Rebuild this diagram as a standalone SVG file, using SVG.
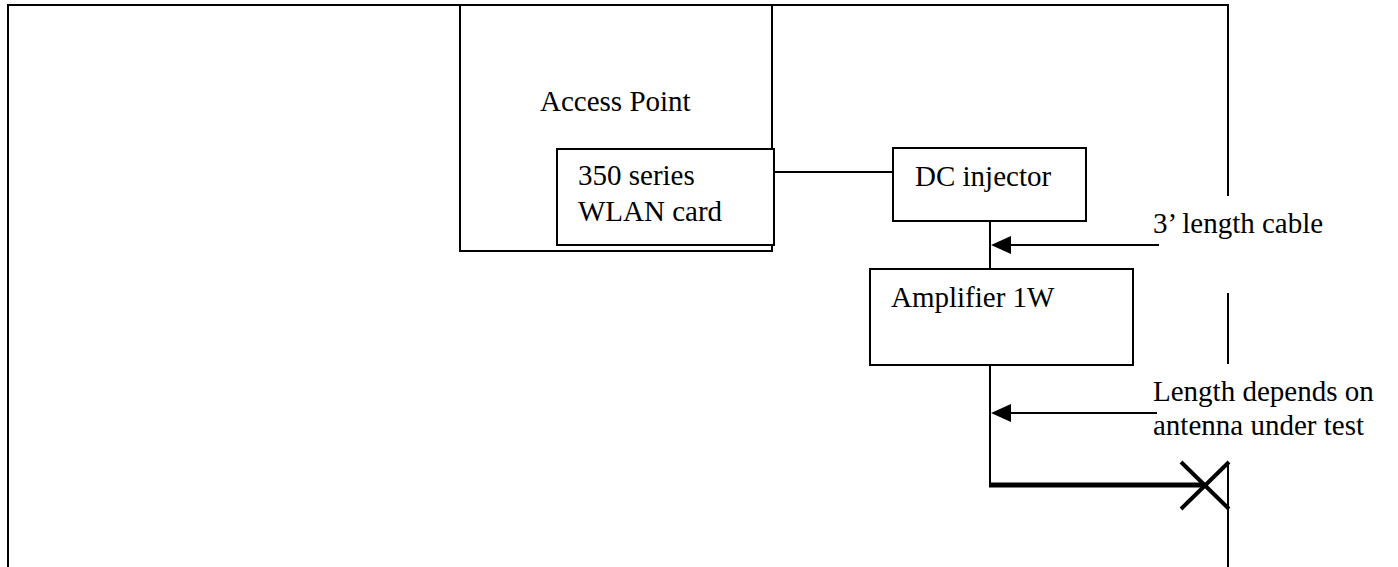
<svg xmlns="http://www.w3.org/2000/svg" width="1398" height="567" viewBox="0 0 1398 567">
<style>
.box{fill:none;stroke:#000;stroke-width:2}
.ln{fill:none;stroke:#000;stroke-width:2}
.head{fill:#000;stroke:none}
.t{font-family:"Liberation Serif","Times New Roman",serif;font-size:29px;fill:#000}
</style>
<rect width="1398" height="567" fill="#fff"/>
<g id="frame">
<path class="ln" d="M8,567 V5 H1228 V196"/>
<path class="ln" d="M1228,293 V364"/>
<path class="ln" d="M1228,462 V567"/>
</g>
<g id="access-point">
<rect class="box" x="460" y="5" width="312" height="246"/>
<text class="t" x="540" y="111">Access Point</text>
</g>
<g id="wlan-card">
<rect class="box" x="557" y="149" width="217" height="96" style="fill:#fff"/>
<text class="t" x="578" y="185">350 series</text>
<text class="t" x="578" y="221">WLAN card</text>
</g>
<g id="dc-injector">
<rect class="box" x="893" y="148" width="193" height="73"/>
<text class="t" x="915" y="186">DC injector</text>
</g>
<g id="amplifier">
<rect class="box" x="870" y="269" width="263" height="96"/>
<text class="t" x="891" y="307">Amplifier 1W</text>
</g>
<g id="labels">
<text class="t" x="1153" y="233">3’ length cable</text>
<text class="t" x="1153" y="401">Length depends on</text>
<text class="t" x="1153" y="435">antenna under test</text>
</g>
<g id="antenna">
<path d="M1181,462 L1229,509 M1181,509 L1229,462" stroke="#000" stroke-width="4" fill="none"/>
</g>
<g id="connectors">
<path class="ln" d="M774,172 H893"/>
<path class="ln" d="M990,221 V269"/>
<path class="ln" d="M990,365 V485"/>
<path d="M989,485 H1205" stroke="#000" stroke-width="5" fill="none"/>
<path class="ln" d="M1159,245 H1008"/>
<polygon class="head" points="991,245 1011,236 1011,254"/>
<path class="ln" d="M1157,413 H1008"/>
<polygon class="head" points="991,413 1011,404 1011,422"/>
</g>
</svg>
